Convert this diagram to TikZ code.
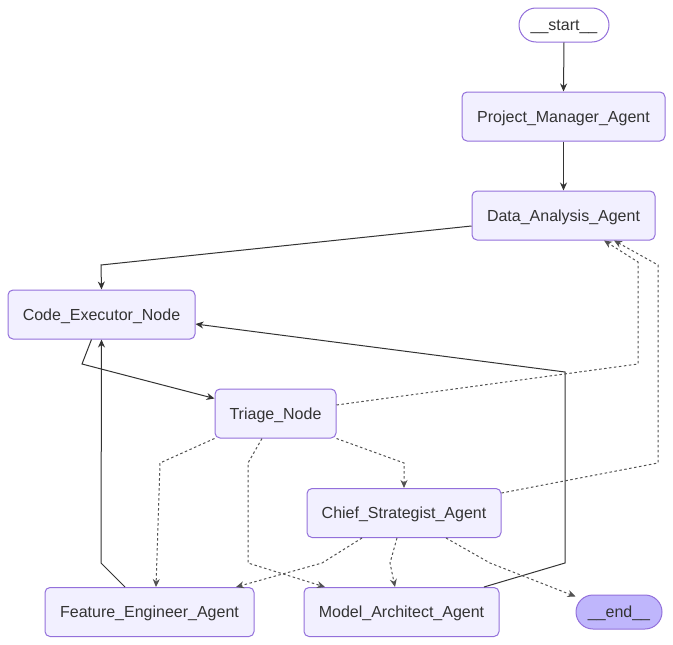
\documentclass[tikz,border=0pt]{standalone}
\usepackage{fontspec}
\setmainfont{Liberation Sans}
\usepackage{xcolor}
\usetikzlibrary{arrows.meta,positioning,calc}

\definecolor{nodefill}{HTML}{F2F0FF}
\definecolor{nodeline}{HTML}{9370DB}
\definecolor{endfill}{HTML}{BFB6FC}
\definecolor{edgecol}{HTML}{333333}

\begin{document}
\begin{tikzpicture}[
        x=1pt, y=-1pt,
        font=\fontsize{16}{19}\selectfont,
        >={Stealth[length=8pt,width=7pt]},
        agent/.style={draw=nodeline, line width=1pt, fill=nodefill, rounded corners=5pt, minimum height=49pt, inner sep=0pt, text height=11.5pt, text depth=0pt, text=edgecol, align=center},
        terminal/.style={draw=nodeline, line width=1pt, fill=white, rounded corners=17pt, minimum height=34pt, inner sep=0pt, text height=11.5pt, text depth=0pt, text=edgecol},
        solidedge/.style={->, line width=1pt, draw=edgecol},
        condedge/.style={->, line width=1pt, draw=edgecol!85, dash pattern=on 2.5pt off 2.5pt}
    ]

    \useasboundingbox (0,0) rectangle (673,645);

    % ==========================================
    % Nodes
    % ==========================================
    \node[terminal, minimum width=90pt] (start) at (564, 25) {\_\_start\_\_};
    \node[agent, minimum width=203pt] (pm) at (563.5, 116.5) {Project\_Manager\_Agent};
    \node[agent, minimum width=183pt] (da) at (563.5, 215.5) {Data\_Analysis\_Agent};
    \node[agent, minimum width=187pt] (ce) at (101.5, 314.5) {Code\_Executor\_Node};
    \node[agent, minimum width=121pt] (tri) at (275.5, 413.5) {Triage\_Node};
    \node[agent, minimum width=194pt] (chief) at (404, 513) {Chief\_Strategist\_Agent};
    \node[agent, minimum width=209pt] (fe) at (149.5, 612) {Feature\_Engineer\_Agent};
    \node[agent, minimum width=195pt] (ma) at (401.5, 612) {Model\_Architect\_Agent};
    \node[terminal, fill=endfill, minimum width=86pt] (end) at (619, 612) {\_\_end\_\_};

    % ==========================================
    % Solid edges
    % ==========================================
    \draw[solidedge] (start.south) -- (pm.north);
    \draw[solidedge] (pm.south) -- (da.north);
    \draw[solidedge] ([yshift=-10.5pt]da.west) -- (101, 265) -- (ce.north);
    \draw[solidedge] ([xshift=-10pt]ce.south) -- (82, 364) -- ([yshift=15pt]tri.west);
    \draw[solidedge] ([xshift=-24.5pt]fe.north) -- (101, 563) -- (ce.south);
    \draw[solidedge] ([xshift=82.5pt]ma.north) -- (565, 563) -- (565, 372) -- ([yshift=-9.5pt]ce.east);

    % ==========================================
    % Conditional (dotted) edges
    % ==========================================
    \draw[condedge] ([yshift=8.5pt]tri.east) -- (638, 364) -- (638, 262) -- ([xshift=40.5pt]da.south);
    \draw[condedge] (tri.south east) -- (404, 463) -- (chief.north);
    \draw[condedge] (tri.south west) -- (160, 463) -- ([xshift=6.5pt]fe.north);
    \draw[condedge] ([xshift=-13.5pt]tri.south) -- (248, 463) -- (248, 563) -- ([xshift=-76.5pt]ma.north);
    \draw[condedge] ([yshift=20pt]chief.east) -- (658, 463) -- (658, 265) -- ([xshift=50.5pt]da.south);
    \draw[condedge] ([xshift=-42pt]chief.south) -- (322, 563) -- ([xshift=86.5pt]fe.north);
    \draw[condedge] ([xshift=-7pt]chief.south) -- (390, 563) -- ([xshift=-6.5pt]ma.north);
    \draw[condedge] ([xshift=42pt]chief.south) -- (490, 563) -- ([yshift=-2pt]end.north west);

\end{tikzpicture}
\end{document}
